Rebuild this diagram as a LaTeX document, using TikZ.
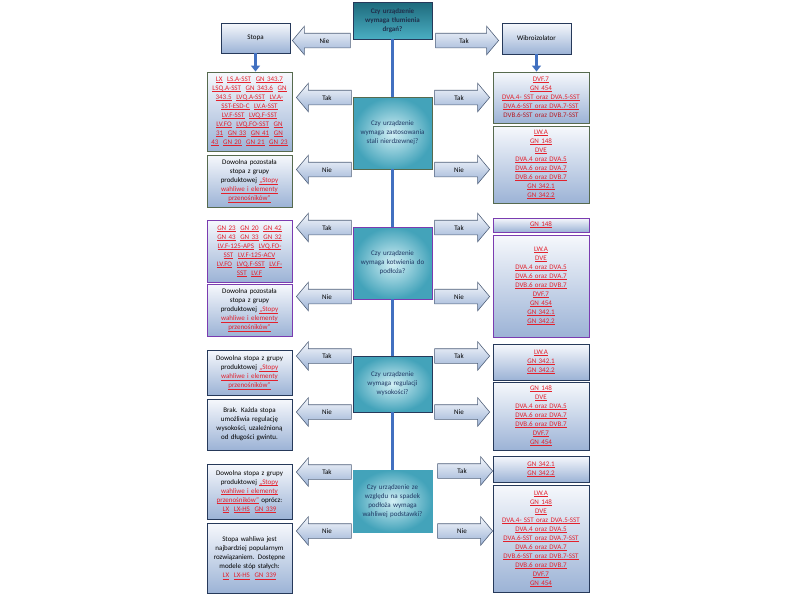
\documentclass[tikz,border=0pt]{standalone}
\usepackage{fontspec}
\setmainfont{Carlito}
\usetikzlibrary{shapes.arrows,arrows.meta}

\definecolor{linkred}{HTML}{E3202C}
\definecolor{boxtop}{HTML}{F6F8FC}
\definecolor{boxbot}{HTML}{9CB3D6}
\definecolor{greenline}{HTML}{566A4E}
\definecolor{purpleline}{HTML}{7A3CB0}
\definecolor{navyline}{HTML}{26395A}
\definecolor{spineblue}{HTML}{4170C0}
\definecolor{askin}{HTML}{D2EFF5}
\definecolor{askout}{HTML}{43A3BA}
\definecolor{asktext}{HTML}{1F3864}
\definecolor{starttop}{HTML}{1E6A7C}
\definecolor{startbot}{HTML}{4AAEC2}
\newcommand{\prodlink}[1]{\textcolor{linkred}{\setbox0\hbox{#1}\rlap{\rule[-1.1pt]{\wd0}{0.45pt}}\box0}}

\begin{document}
\begin{tikzpicture}[
    x=1pt, y=-1pt,
    base/.style = {rectangle, draw=navyline, line width=0.9pt,
top color=boxtop, bottom color=boxbot, inner sep=1pt,
align=center, font=\fontsize{7}{9}\selectfont},
    leftbox/.style = {base, minimum width=85pt, text width=81pt},
    rightbox/.style = {base, minimum width=96pt, text width=92pt},
    ask/.style = {base, inner color=askin, outer color=askout,
minimum width=79pt, text width=75pt, text=asktext},
    choice/.style = {single arrow, draw=navyline!80, line width=0.6pt,
top color=boxtop, bottom color=boxbot, inner xsep=0pt, inner ysep=4.5pt,
text height=5pt, text depth=0pt, single arrow head extend=7pt,
single arrow tip angle=100, font=\fontsize{7}{9}\selectfont},
    toleft/.style = {choice, shape border rotate=180, anchor=tip, minimum height=55pt},
    toright/.style = {choice, anchor=tip, minimum height=55pt},
    spine/.style = {draw=spineblue, line width=3.5pt},
    down/.style = {draw=spineblue, line width=3.2pt, -{Triangle[length=6pt, width=9pt]}}
]
  \useasboundingbox (0,0) rectangle (800,600);

  % start
  \node (q1) [ask, top color=starttop, bottom color=startbot,
minimum height=37pt, text=navyline!85!black, font=\fontsize{7}{9}\selectfont\bfseries]
    at (392.5,20.5) {Czy urządzenie\\wymaga tłumienia\\drgań?};
  \node (stopa) [base, minimum width=69pt, minimum height=30pt] at (255.5,38) {Stopa};
  \node (wibro) [base, minimum width=69pt, minimum height=31pt] at (536.5,38.5) {Wibroizolator};
  \node (a1n) [toleft, minimum height=58pt] at (292,40.5) {Nie};
  \node (a1t) [toright, minimum height=63pt] at (499,40.5) {Tak};

  % stal nierdzewna
  \node (q2) [ask, draw=greenline, minimum height=72pt] at (392.5,133)
    {Czy urządzenie\\wymaga zastosowania\\stali nierdzewnej?};
  \node (l2t) [leftbox, draw=greenline, minimum height=79pt] at (249.5,111.5)
    {\prodlink{LX}\ \ \prodlink{LS.A-SST}\ \ \prodlink{GN 343.7}\\
     \prodlink{LSQ.A-SST}\ \ \prodlink{GN 343.6}\ \ \prodlink{GN}\\
     \prodlink{343.5}\ \ \prodlink{LVQ.A-SST}\ \ \prodlink{LV.A-}\\
     \prodlink{SST-ESD-C}\ \ \prodlink{LV.A-SST}\\
     \prodlink{LV.F-SST}\ \ \prodlink{LVQ.F-SST}\\
     \prodlink{LV.FO}\ \ \prodlink{LVQ.FO-SST}\ \ \prodlink{GN}\\
     \prodlink{31}\ \ \prodlink{GN 33}\ \ \prodlink{GN 41}\ \ \prodlink{GN}\\
     \prodlink{43}\ \ \prodlink{GN 20}\ \ \prodlink{GN 21}\ \ \prodlink{GN 23}};
  \node (l2n) [leftbox, draw=greenline, minimum height=52pt] at (249.5,181)
    {Dowolna pozostała\\stopa z grupy\\produktowej \prodlink{„Stopy}\\
     \prodlink{wahliwe i elementy}\\\prodlink{przenośników”}};
  \node (r2t) [rightbox, draw=greenline, minimum height=51pt] at (541,97.5)
    {\prodlink{DVF.7}\\\prodlink{GN 454}\\\prodlink{DVA.4- SST oraz DVA.5-SST}\\
     \prodlink{DVA.6-SST oraz DVA.7-SST}\\\textcolor{linkred!80!black}{DVB.6-SST oraz DVB.7-SST}};
  \node (r2n) [rightbox, draw=greenline, minimum height=77pt] at (541,164.5)
    {\prodlink{LW.A}\\\prodlink{GN 148}\\\prodlink{DVE}\\\prodlink{DVA.4 oraz DVA.5}\\
     \prodlink{DVA.6 oraz DVA.7}\\\prodlink{DVB.6 oraz DVB.7}\\\prodlink{GN 342.1}\\\prodlink{GN 342.2}};
  \node (a2lt) [toleft] at (296,97.5) {Tak};
  \node (a2ln) [toleft] at (296,169.5) {Nie};
  \node (a2rt) [toright] at (490,97.5) {Tak};
  \node (a2rn) [toright] at (490,169.5) {Nie};

  % kotwienie
  \node (q3) [ask, draw=purpleline, minimum height=72pt] at (392.5,263)
    {Czy urządzenie\\wymaga kotwienia do\\podłoża?};
  \node (l3t) [leftbox, draw=purpleline, minimum height=62pt] at (249.5,251)
    {\prodlink{GN 23}\ \ \prodlink{GN 20}\ \ \prodlink{GN 42}\\
     \prodlink{GN 43}\ \ \prodlink{GN 33}\ \ \prodlink{GN 32}\\
     \prodlink{LV.F-125-APS}\ \ \prodlink{LVQ.FO-}\\
     \prodlink{SST}\ \ \prodlink{LV.F-125-ACV}\\
     \prodlink{LV.FO}\ \ \prodlink{LVQ.F-SST}\ \ \prodlink{LV.F-}\\
     \prodlink{SST}\ \ \prodlink{LV.F}};
  \node (l3n) [leftbox, draw=purpleline, minimum height=52pt] at (249.5,310)
    {Dowolna pozostała\\stopa z grupy\\produktowej \prodlink{„Stopy}\\
     \prodlink{wahliwe i elementy}\\\prodlink{przenośników”}};
  \node (r3t) [rightbox, draw=purpleline, minimum height=14pt] at (541,225)
    {\prodlink{GN 148}};
  \node (r3n) [rightbox, draw=purpleline, minimum height=102pt] at (541,286)
    {\prodlink{LW.A}\\\prodlink{DVE}\\\prodlink{DVA.4 oraz DVA.5}\\
     \prodlink{DVA.6 oraz DVA.7}\\\prodlink{DVB.6 oraz DVB.7}\\\prodlink{DVF.7}\\
     \prodlink{GN 454}\\\prodlink{GN 342.1}\\\prodlink{GN 342.2}};
  \node (a3lt) [toleft] at (296,227.5) {Tak};
  \node (a3ln) [toleft] at (296,296.5) {Nie};
  \node (a3rt) [toright] at (490,227.5) {Tak};
  \node (a3rn) [toright] at (490,296.5) {Nie};

  % regulacja
  \node (q4) [ask, minimum height=56pt] at (392.5,384)
    {Czy urządzenie\\wymaga regulacji\\wysokości?};
  \node (l4t) [leftbox, minimum height=45pt] at (249.5,372.5)
    {Dowolna stopa z grupy\\produktowej \prodlink{„Stopy}\\
     \prodlink{wahliwe i elementy}\\\prodlink{przenośników”}};
  \node (l4n) [leftbox, minimum height=51pt] at (249.5,424.5)
    {Brak. Każda stopa\\umożliwia regulację\\wysokości, uzależnioną\\od długości gwintu.};
  \node (r4t) [rightbox, minimum height=36pt] at (541,362)
    {\prodlink{LW.A}\\\prodlink{GN 342.1}\\\prodlink{GN 342.2}};
  \node (r4n) [rightbox, minimum height=68pt] at (541,416)
    {\prodlink{GN 148}\\\prodlink{DVE}\\\prodlink{DVA.4 oraz DVA.5}\\
     \prodlink{DVA.6 oraz DVA.7}\\\prodlink{DVB.6 oraz DVB.7}\\\prodlink{DVF.7}\\\prodlink{GN 454}};
  \node (a4lt) [toleft] at (296,356) {Tak};
  \node (a4ln) [toleft] at (296,412) {Nie};
  \node (a4rt) [toright] at (490,356) {Tak};
  \node (a4rn) [toright] at (490,412) {Nie};

  % podstawka wahliwa
  \node (q5) [ask, draw=askout, minimum height=62pt] at (392.5,501)
    {Czy urządzenie ze\\względu na spadek\\podłoża wymaga\\wahliwej podstawki?};
  \node (l5t) [leftbox, minimum height=55pt] at (249.5,491.5)
    {Dowolna stopa z grupy\\produktowej \prodlink{„Stopy}\\
     \prodlink{wahliwe i elementy}\\\prodlink{przenośników”} oprócz:\\
     \prodlink{LX}\ \ \prodlink{LX-HS}\ \ \prodlink{GN 339}};
  \node (l5n) [leftbox, minimum height=70pt] at (249.5,558)
    {Stopa wahliwa jest\\najbardziej popularnym\\rozwiązaniem. Dostępne\\
     modele stóp stałych:\\\prodlink{LX}\ \ \prodlink{LX-HS}\ \ \prodlink{GN 339}};
  \node (r5t) [rightbox, minimum height=26pt] at (541,469)
    {\prodlink{GN 342.1}\\\prodlink{GN 342.2}};
  \node (r5n) [rightbox, minimum height=107pt] at (541,538.5)
    {\prodlink{LW.A}\\\prodlink{GN 148}\\\prodlink{DVE}\\\prodlink{DVA.4- SST oraz DVA.5-SST}\\
     \prodlink{DVA.4 oraz DVA.5}\\\prodlink{DVA.6-SST oraz DVA.7-SST}\\\prodlink{DVA.6 oraz DVA.7}\\
     \prodlink{DVB.6-SST oraz DVB.7-SST}\\\prodlink{DVB.6 oraz DVB.7}\\\prodlink{DVF.7}\\\prodlink{GN 454}};
  \node (a5lt) [toleft] at (296,472) {Tak};
  \node (a5ln) [toleft] at (296,531) {Nie};
  \node (a5rt) [toright] at (493,471) {Tak};
  \node (a5rn) [toright] at (493,531) {Nie};

  \draw[spine] (q1) -- (q2);
  \draw[spine] (q2) -- (q3);
  \draw[spine] (q3) -- (q4);
  \draw[spine] (q4) -- (q5);
  \draw[down] (stopa.south) -- (stopa.south |- l2t.north);
  \draw[down] (wibro.south) -- (wibro.south |- r2t.north);

\end{tikzpicture}
\end{document}
